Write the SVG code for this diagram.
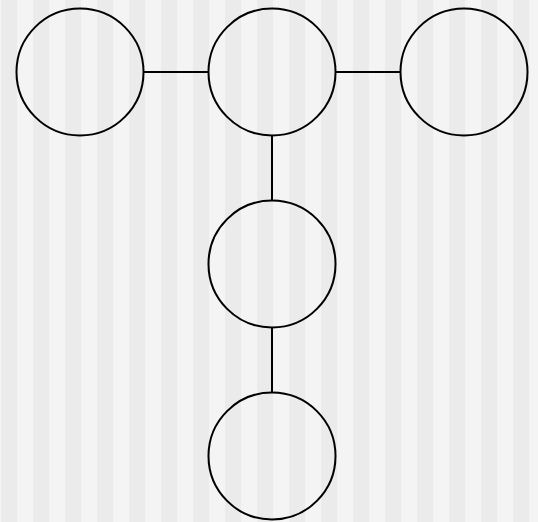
<svg xmlns="http://www.w3.org/2000/svg" width="538" height="522" viewBox="0 0 538 522">
<defs>
<pattern id="stripes" x="1" y="0" width="32" height="522" patternUnits="userSpaceOnUse">
<rect x="0" y="0" width="16" height="522" fill="#ebebeb"/>
<rect x="16" y="0" width="16" height="522" fill="#f4f4f4"/>
</pattern>
<style>
.node{fill:none;stroke:#000;stroke-width:2}
.edge{stroke:#000;stroke-width:2;fill:none}
</style>
</defs>
<rect x="0" y="0" width="538" height="522" fill="url(#stripes)"/>
<g id="connectors">
<line class="edge" x1="143" y1="72" x2="209" y2="72"/>
<line class="edge" x1="335" y1="72" x2="401" y2="72"/>
<line class="edge" x1="272" y1="135" x2="272" y2="201"/>
<line class="edge" x1="272" y1="327" x2="272" y2="393"/>
</g>
<g id="node-left"><circle class="node" cx="80" cy="72" r="63.5"/></g>
<g id="node-center"><circle class="node" cx="272" cy="72" r="63.5"/></g>
<g id="node-right"><circle class="node" cx="464" cy="72" r="63.5"/></g>
<g id="node-middle"><circle class="node" cx="272" cy="264" r="63.5"/></g>
<g id="node-bottom"><circle class="node" cx="272" cy="456" r="63.5"/></g>
</svg>
